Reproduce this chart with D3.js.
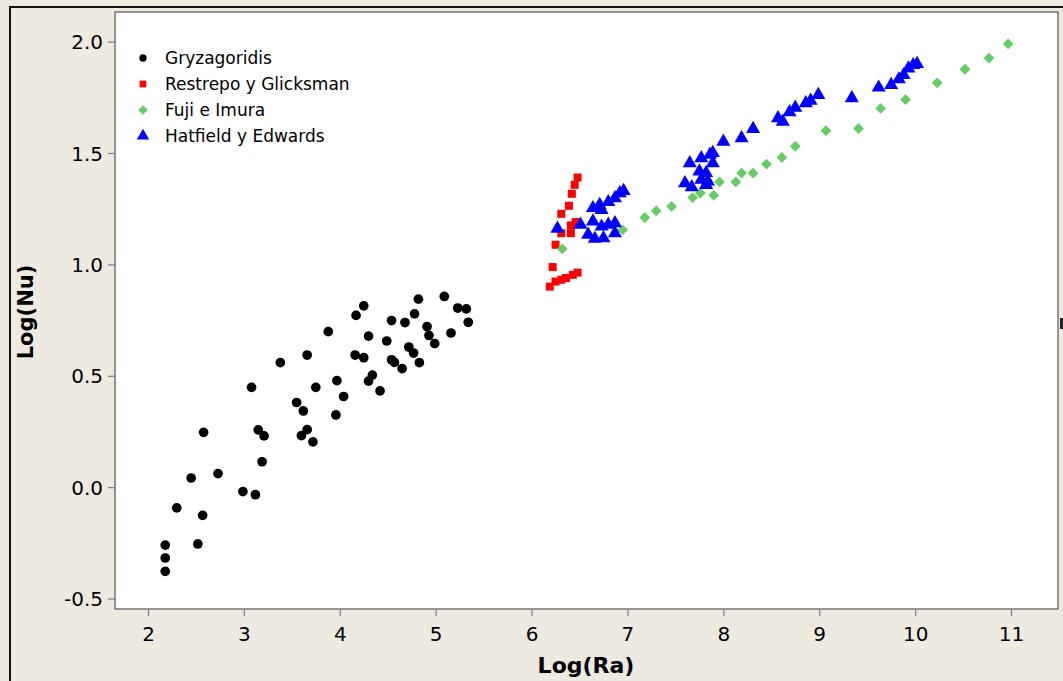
<!DOCTYPE html>
<html>
<head>
<meta charset="utf-8">
<script src="https://cdn.jsdelivr.net/npm/d3@7"></script>
<style>
  body { margin: 0; background: #eeeae0; }
  text { font-family: "DejaVu Sans", Verdana, sans-serif; }
</style>
</head>
<body>
<script>
// series (Log(Ra), Log(Nu))
var gryX = [2.18, 2.18, 2.18, 2.52, 2.57, 2.30, 2.99, 3.12, 2.45, 2.73, 2.58, 3.19, 3.15, 3.21, 3.08,
  3.66, 3.60, 3.72, 3.55, 3.62, 3.38, 3.66, 3.75, 3.88, 3.97, 4.04, 3.96, 4.17, 4.25, 4.16, 4.25,
  4.30, 4.34, 4.30, 4.42, 4.49, 4.54, 4.54, 4.57, 4.65, 4.68, 4.78, 4.82, 4.72, 4.77, 4.83, 4.91,
  4.93, 4.99, 5.09, 5.16, 5.23, 5.32, 5.34];
var gryY = [-0.378, -0.318, -0.26, -0.255, -0.127, -0.093, -0.02, -0.034, 0.041, 0.061, 0.246, 0.114, 0.257, 0.230, 0.448,
  0.258, 0.231, 0.203, 0.380, 0.342, 0.559, 0.593, 0.448, 0.698, 0.478, 0.407, 0.324, 0.771, 0.814, 0.593, 0.581,
  0.678, 0.503, 0.476, 0.432, 0.656, 0.748, 0.572, 0.560, 0.532, 0.739, 0.778, 0.844, 0.629, 0.602, 0.559, 0.721,
  0.681, 0.644, 0.856, 0.692, 0.804, 0.800, 0.740];

var resX = [6.48, 6.45, 6.42, 6.39, 6.31, 6.46, 6.41, 6.41, 6.31, 6.25, 6.22, 6.19, 6.25, 6.31, 6.36, 6.43, 6.48];
var resY = [1.390, 1.357, 1.317, 1.263, 1.227, 1.19, 1.175, 1.14, 1.14, 1.088, 0.988, 0.90, 0.923, 0.931, 0.939, 0.953, 0.963];

var fujX = [6.32, 6.95, 7.18, 7.30, 7.46, 7.68, 7.76, 7.90, 7.96, 8.13, 8.19, 8.31, 8.45, 8.61, 8.75,
  9.07, 9.41, 9.64, 9.90, 10.23, 10.52, 10.77, 10.97];
var fujY = [1.07, 1.155, 1.21, 1.24, 1.26, 1.30, 1.32, 1.31, 1.37, 1.37, 1.41, 1.41, 1.45, 1.48, 1.53,
  1.60, 1.61, 1.70, 1.74, 1.815, 1.876, 1.926, 1.99];

var hatX = [6.27, 6.51, 6.64, 6.71, 6.80, 6.87, 6.92, 6.96, 6.73, 6.64, 6.73, 6.80, 6.87, 6.59, 6.66, 6.75, 6.87,
  7.65, 7.77, 7.86, 7.89, 7.89, 7.75, 7.82, 7.77, 7.84, 7.60, 7.67, 7.82,
  8.00, 8.19, 8.31, 8.57, 8.62, 8.69, 8.75, 8.86, 8.91, 8.99, 9.34, 9.62, 9.75, 9.83, 9.88, 9.93, 9.98, 10.02];
var hatY = [1.16, 1.178, 1.253, 1.267, 1.28, 1.297, 1.32, 1.33, 1.245, 1.193, 1.17, 1.178, 1.185, 1.133, 1.115, 1.118, 1.14,
  1.454, 1.477, 1.492, 1.50, 1.454, 1.417, 1.41, 1.38, 1.372, 1.365, 1.347, 1.357,
  1.551, 1.567, 1.608, 1.656, 1.641, 1.683, 1.704, 1.724, 1.735, 1.761, 1.746, 1.794, 1.806, 1.831, 1.85, 1.88, 1.895, 1.90];

var names = ["Gryzagoridis", "Restrepo y Glicksman", "Fuji e Imura", "Hatfield y Edwards"];
var xTicks = [2, 3, 4, 5, 6, 7, 8, 9, 10, 11];
var yTicks = [-0.5, 0, 0.5, 1.0, 1.5, 2.0];

var series = [
  {name: names[0], xs: gryX, ys: gryY, color: "#000000", sym: d3.symbolCircle, size: 74, rot: 0, legSize: 42},
  {name: names[1], xs: resX, ys: resY, color: "#ff0000", sym: d3.symbolSquare, size: 64, rot: 0, legSize: 46},
  {name: names[2], xs: fujX, ys: fujY, color: "#66cc66", sym: d3.symbolSquare, size: 58, rot: 45, legSize: 46},
  {name: names[3], xs: hatX, ys: hatY, color: "#0000ff", sym: d3.symbolTriangle, size: 86, rot: 0, legSize: 66}
];

var W = 1063, H = 681;
var plotL = 115, plotR = 1058, plotT = 12, plotB = 609;

var svg = d3.select("body").append("svg")
    .attr("width", W)
    .attr("height", H);

svg.append("rect").attr("width", W).attr("height", H).attr("fill", "#eeeae0");

// outer frame (top and left edges are visible)
svg.append("rect").attr("x", 9).attr("y", 6).attr("width", W - 9).attr("height", 2).attr("fill", "#111");
svg.append("rect").attr("x", 9).attr("y", 6).attr("width", 2).attr("height", H - 6).attr("fill", "#111");

var x = d3.scaleLinear().domain([1.656, 11.49]).range([plotL, plotR]);
var y = d3.scaleLinear().domain([-0.547, 2.133]).range([plotB, plotT]);

svg.append("rect")
    .attr("x", plotL).attr("y", plotT)
    .attr("width", plotR - plotL).attr("height", plotB - plotT)
    .attr("fill", "#fff")
    .attr("stroke", "#555")
    .attr("stroke-width", 1.2);

var xAxis = svg.append("g")
    .attr("transform", "translate(0," + plotB + ")")
    .call(d3.axisBottom(x).tickValues(xTicks).tickSize(7).tickPadding(11).tickFormat(d3.format("d")));
var yAxis = svg.append("g")
    .attr("transform", "translate(" + plotL + ",0)")
    .call(d3.axisLeft(y).tickValues(yTicks).tickSize(7).tickPadding(5).tickFormat(d => d.toFixed(1)));

[xAxis, yAxis].forEach(function(g) {
  g.select(".domain").remove();
  g.selectAll(".tick line").attr("stroke", "#808080").attr("stroke-width", 1.2);
  g.selectAll(".tick text").attr("fill", "#000").style("font-size", "20px");
});
yAxis.selectAll(".tick text").attr("dy", "0.36em");

svg.append("text")
    .attr("x", 586).attr("y", 673)
    .attr("text-anchor", "middle")
    .style("font-size", "22px").style("font-weight", "bold")
    .text("Log(Ra)");
svg.append("text")
    .attr("transform", "translate(33,312) rotate(-90)")
    .attr("text-anchor", "middle")
    .style("font-size", "21px").style("font-weight", "bold")
    .text("Log(Nu)");

// points
series.forEach(function(s) {
  var pts = s.xs.map((v, i) => [v, s.ys[i]]);
  svg.append("g").selectAll("path")
    .data(pts)
    .join("path")
      .attr("d", d3.symbol().type(s.sym).size(s.size))
      .attr("transform", d => "translate(" + x(d[0]) + "," + y(d[1]) + ") rotate(" + s.rot + ")")
      .attr("fill", s.color);
});

// legend
var leg = svg.append("g").selectAll("g")
  .data(series)
  .join("g")
    .attr("transform", (d, i) => "translate(143," + (58 + i * 26) + ")");
leg.append("path")
    .attr("d", d => d3.symbol().type(d.sym).size(d.legSize)())
    .attr("transform", d => "rotate(" + d.rot + ")")
    .attr("fill", d => d.color);
leg.append("text")
    .attr("x", 22).attr("y", 6)
    .style("font-size", "17px")
    .attr("fill", "#000")
    .text(d => d.name);

// small dark mark at the right edge
svg.append("rect").attr("x", 1060).attr("y", 318).attr("width", 3).attr("height", 11).attr("fill", "#222");
</script>
</body>
</html>
